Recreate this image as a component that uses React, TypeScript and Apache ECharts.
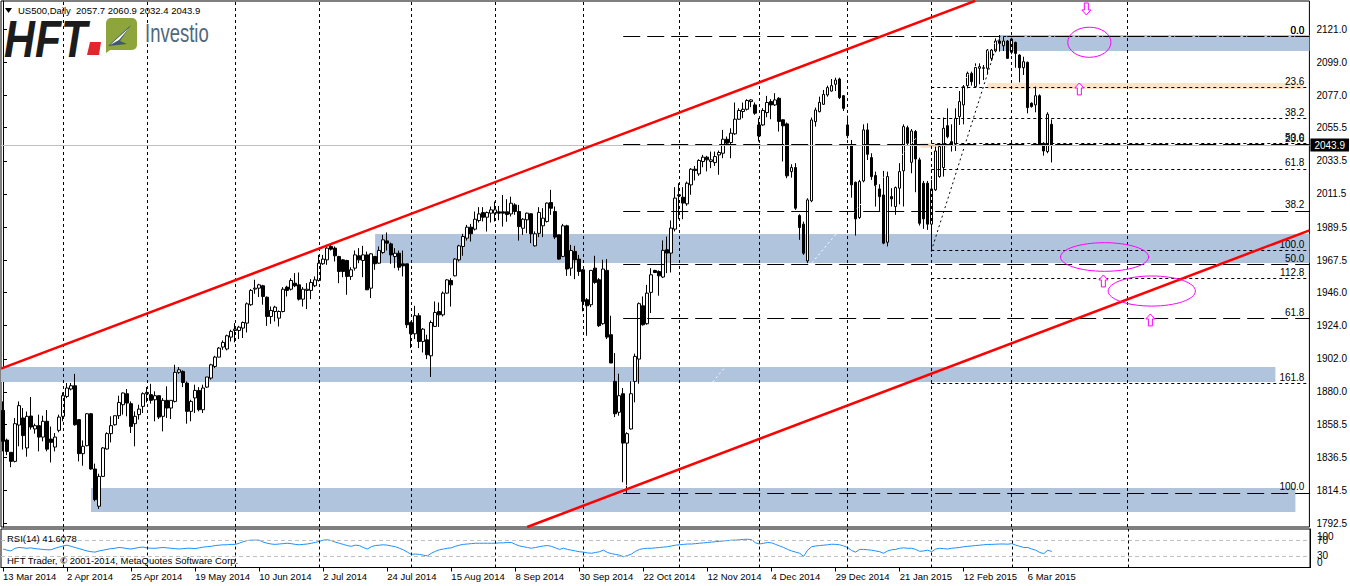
import React, { useEffect, useRef } from "react";
import * as echarts from "echarts";

// ---------- DATA ----------
const SLOTS = 327; // bar slots across the plot (incl. empty future space)

const dateTicks = [0, 16, 32, 48, 64, 80, 96, 112, 128, 144, 160, 176, 192, 208, 224, 240, 256];
const dateLabels = ["13 Mar 2014", "2 Apr 2014", "25 Apr 2014", "19 May 2014", "10 Jun 2014", "2 Jul 2014", "24 Jul 2014", "15 Aug 2014", "8 Sep 2014", "30 Sep 2014", "22 Oct 2014", "12 Nov 2014", "4 Dec 2014", "29 Dec 2014", "21 Jan 2015", "12 Feb 2015", "6 Mar 2015"];

const priceTicks = [2121.0, 2099.0, 2077.0, 2055.5, 2033.5, 2011.5, 1989.5, 1967.5, 1946.0, 1924.0, 1902.0, 1880.0, 1858.5, 1836.5, 1814.5, 1792.5];
const rsiInnerTicks = [70, 30];
const rsiOuterTicks = [100, 0];

// [open, close, low, high]
const candlesA = [
  [1867.7, 1847.2, 1840.5, 1873.7], [1848, 1840.5, 1838, 1849], [1839.9, 1833.9, 1830, 1840], [1833.9, 1858.9, 1833.2, 1862.7],
  [1858, 1870.9, 1843.9, 1873.7], [1862.7, 1851, 1841.7, 1869.3], [1842.8, 1863.8, 1837, 1867], [1864, 1856.7, 1855, 1876.6],
  [1855.4, 1857.6, 1852.3, 1858.9], [1857.6, 1850, 1840.5, 1864.9], [1850, 1860.5, 1847.2, 1864.2], [1860.5, 1842, 1840.5, 1868],
  [1848.7, 1846.5, 1833.2, 1857], [1843.4, 1850, 1840.5, 1852.7], [1854.5, 1863.3, 1853.2, 1864.9], [1863.8, 1877.5, 1860.5, 1879.7],
  [1877, 1882.6, 1875.9, 1885.9], [1881.9, 1884.1, 1881, 1885.9], [1884.1, 1858.2, 1857.6, 1892], [1861.6, 1839, 1833.9, 1861.6],
  [1839, 1843.9, 1831, 1847.8], [1844.3, 1865.5, 1843.9, 1866], [1865.5, 1828.8, 1828.4, 1866], [1828.8, 1808.5, 1807.4, 1832.4],
  [1804.1, 1823.9, 1802.3, 1825.7], [1823.9, 1842.8, 1823.5, 1843.4], [1842.1, 1852.3, 1841.7, 1853.2], [1852.3, 1857.6, 1846.5, 1863.8],
  [1858.2, 1864.2, 1857.6, 1864.2], [1864.2, 1873, 1862, 1877.5], [1871.5, 1879.3, 1864.9, 1879.7], [1878.8, 1872.6, 1863.8, 1881.9],
  [1872.2, 1857.1, 1852.7, 1873.7], [1858.9, 1863.8, 1843.9, 1867.1], [1864.9, 1868.6, 1861.6, 1871.5], [1870.4, 1878.8, 1866, 1879.7],
  [1878.8, 1879.7, 1873, 1883.2], [1878.2, 1874.4, 1872.2, 1885.4], [1874.8, 1877.5, 1860.5, 1880.4], [1877.5, 1863.3, 1862, 1877.5],
  [1863.8, 1874.4, 1853.8, 1875.9], [1874.4, 1869.3, 1862.7, 1883.7], [1869.3, 1874.4, 1862, 1874.4], [1873.7, 1893, 1873, 1898],
  [1893, 1894.7, 1892, 1896.5], [1893.6, 1886.3, 1883.2, 1894.3], [1885.9, 1867.1, 1858.9, 1887], [1867.1, 1873.7, 1860.5, 1874.8],
  [1876, 1881, 1866, 1884.8], [1881, 1868.2, 1867.1, 1883.2], [1868.2, 1882.6, 1866, 1884.8], [1883.2, 1889.9, 1882.6, 1889.9],
  [1889.2, 1898, 1888.1, 1898.7], [1896.9, 1903.1, 1895.8, 1904], [1903.1, 1909.1, 1903.1, 1909.8], [1909.8, 1912.9, 1908, 1914.2],
  [1908.5, 1917.3, 1907.6, 1918], [1916.4, 1920.2, 1913.5, 1921.3], [1920.8, 1921.7, 1912.9, 1925.7], [1920.8, 1923, 1915.1, 1923.9],
  [1922.4, 1926.1, 1915.8, 1926.8], [1925.7, 1938.5, 1919.5, 1939.4], [1937.9, 1947.4, 1937.2, 1948.3], [1948.3, 1948.9, 1945.2, 1954.5],
  [1948.9, 1951.1, 1943, 1951.8], [1950.5, 1943.4, 1937.9, 1951.1],
];
const candlesB = [
  [1942.9, 1930.1, 1923.9, 1943.4], [1930.1, 1934.1, 1925.2, 1936.7], [1933.4, 1936.3, 1926.8, 1937.2], [1929, 1933.4, 1923.5, 1934.1],
  [1933.4, 1948.2, 1932.8, 1949.6], [1949.6, 1947.4, 1943.4, 1950.5], [1948.2, 1954, 1947.4, 1955.5], [1952.2, 1950.5, 1949.6, 1958.9],
  [1951.1, 1941.6, 1940.7, 1959.3], [1941.6, 1948.2, 1936.7, 1949.6], [1947.4, 1948.2, 1935, 1952.2], [1947.4, 1952.7, 1941.6, 1954.9],
  [1950.5, 1954.4, 1949.6, 1956.7], [1954, 1965.5, 1953.3, 1971], [1965.1, 1968.2, 1964.4, 1971], [1967.7, 1975.5, 1964.4, 1977.7],
  [1976.6, 1974.8, 1973.9, 1977.7], [1975.5, 1970.4, 1966.6, 1976.6], [1969.9, 1960, 1952.2, 1970.4], [1967.7, 1960, 1956.2, 1968.2],
  [1967.3, 1956.7, 1944.5, 1967.7], [1956.7, 1961.1, 1954.4, 1962.8], [1962.2, 1971, 1960.6, 1973.9], [1970.4, 1967.7, 1965.5, 1975.5],
  [1967.3, 1971, 1956.2, 1977], [1971, 1947.8, 1947.8, 1973.2], [1948.9, 1971.7, 1942.3, 1972.1], [1969.9, 1965.1, 1961.1, 1970.4],
  [1965.5, 1973.9, 1965.1, 1976.6], [1972.6, 1981, 1971.7, 1984.3], [1980.3, 1978.8, 1973.9, 1985.9], [1978.3, 1971, 1965.1, 1979.2],
  [1969.9, 1972.1, 1962.2, 1975.5], [1972.1, 1962.8, 1960.6, 1973.9], [1965.1, 1963.7, 1956.7, 1973.9], [1965.1, 1924.6, 1922.4, 1965.1],
  [1926.1, 1918.6, 1909.1, 1926.8], [1918.6, 1930.6, 1915.1, 1937.2], [1930.6, 1913.5, 1909.1, 1932.3], [1913.5, 1921.7, 1906.2, 1922.4],
  [1914.6, 1904.7, 1901.8, 1918], [1904, 1926.1, 1889.9, 1927.4], [1923.5, 1932.8, 1923.1, 1940.1], [1933.4, 1931.2, 1923.1, 1939.4],
  [1931.2, 1945.6, 1930.1, 1946.7], [1945.6, 1954.4, 1945.2, 1954.9], [1954, 1951.1, 1936.7, 1955.5], [1957.1, 1968.2, 1956.7, 1968.8],
  [1967.7, 1977, 1966.6, 1977.7], [1976.6, 1983.2, 1970.4, 1985], [1982.1, 1989.4, 1980.5, 1990.9], [1989.4, 1985, 1979.9, 1991.6],
  [1988.1, 1994.7, 1987.2, 1999.8], [1993.8, 1998.2, 1992.5, 2002.7], [1999.1, 1996, 1993.2, 2002.7], [1996, 1999.1, 1986.5, 1999.8],
  [1998.7, 2000.9, 1992.5, 2003.1], [1998.7, 2000.9, 1993.2, 2006.4], [1999.6, 1998.7, 1994, 2003.5], [1999.6, 1998.7, 1989.8, 2010.8],
  [1999.6, 1997.8, 1993, 2008], [1998.2, 2005.3, 1996.5, 2009.7], [2004.2, 1999.8, 1997.6, 2005.3], [1999.8, 1989.8, 1980.5, 2004.2],
  [1988.7, 1994.7, 1984.3, 1995.4], [1994.3, 1998.7, 1985.4, 1999.1],
];
const candlesC = [
  [1998.3, 1985, 1978.8, 1998.7], [1977, 1985, 1976.6, 1986.6], [1985.3, 1999.2, 1982.8, 2002.7], [1990.3, 1995.4, 1982.8, 2002],
  [1993.2, 2005.4, 1992.5, 2005.8], [2005.8, 2002, 1997.6, 2014.2], [1999.8, 1982.8, 1981.5, 2003.1], [1984.3, 1968.2, 1967.8, 1984.3],
  [1970, 1990.3, 1969.5, 1991.6], [1990.3, 1961.6, 1957.1, 1991], [1962.2, 1973.9, 1957.1, 1977.7], [1973.3, 1967.8, 1954.9, 1977],
  [1968.2, 1960, 1957.1, 1971], [1961.1, 1940.1, 1933.5, 1961.6], [1941.2, 1937.2, 1917.3, 1942.3], [1937.9, 1960.7, 1936.3, 1960.7],
  [1962.2, 1952.7, 1951.8, 1970.4], [1954.5, 1924, 1923.1, 1955.6], [1925.3, 1961.6, 1924.6, 1967.8], [1960.7, 1916.4, 1915.1, 1968.2],
  [1918, 1899.2, 1899.2, 1930.6], [1887, 1865.5, 1863.3, 1905.8], [1866.5, 1877.5, 1864.2, 1892.1], [1878.8, 1846, 1820, 1882.6],
  [1846, 1852.3, 1813, 1853.2], [1855.4, 1878.8, 1855, 1887], [1887, 1903.6, 1873.1, 1905.4], [1901.8, 1938.6, 1885.5, 1939.4],
  [1937.2, 1924.6, 1924, 1943.4], [1925.3, 1945.6, 1924.6, 1951.1], [1946.1, 1957.8, 1932.4, 1962.2], [1960.7, 1959.3, 1958.9, 1961.1],
  [1960, 1957.1, 1943.9, 1960.7], [1956.3, 1974, 1955.6, 1980.6], [1974.4, 1972.2, 1958.9, 1983.2], [1972.2, 1988.8, 1959.3, 1993.9],
  [1988.1, 2008.7, 1986.6, 2016], [2010.9, 2010.2, 1994.7, 2018.6], [2009.3, 2005.4, 1994.7, 2016], [2004.9, 2018.6, 2003.6, 2019.7],
  [2017.5, 2027.9, 2010.9, 2028.6], [2027.9, 2027, 2020.4, 2030.1], [2024.8, 2033.7, 2023.5, 2034.5], [2033, 2035.9, 2029.2, 2037.4],
  [2035.9, 2034.1, 2026.4, 2036.8], [2033, 2034.1, 2028.6, 2039.6], [2032.3, 2036.3, 2030.1, 2039.6], [2037.4, 2039, 2024.2, 2040.3],
  [2038.5, 2047.8, 2035.2, 2054], [2047.8, 2045.2, 2043.4, 2049.6], [2045.6, 2051.8, 2035.2, 2055.1], [2051.4, 2061.1, 2050.7, 2072.2],
  [2061.1, 2066.9, 2060.7, 2068.4], [2066.2, 2067.7, 2061.8, 2072.2], [2067.7, 2073.5, 2066.9, 2074.4], [2072.8, 2073.9, 2069.1, 2074.4],
  [2070.6, 2065.1, 2064, 2072.2], [2057.3, 2050, 2046.3, 2061.8], [2057.3, 2066.9, 2056.7, 2068.4], [2065.5, 2072.2, 2062.4, 2076.6],
  [2072.8, 2070.6, 2061.1, 2074.4], [2070.6, 2073.9, 2069.9, 2078.4], [2075, 2059.6, 2052.9, 2075.7], [2060.7, 2056.7, 2033, 2061.1],
  [2058, 2023.5, 2021.9, 2058.9],
];
const candlesD = [
  [2026.3, 2029, 2022.3, 2031.2], [2029, 2002, 2000.9, 2031.9], [1997.1, 1989.2, 1981, 1998], [1991.4, 1972.1, 1971, 1993.1],
  [1967, 2007.5, 1965.5, 2008.6], [2006.9, 2060.6, 2006, 2062.2], [2059.5, 2067.2, 2056.2, 2068.8], [2066.1, 2072.3, 2065.7, 2076.1],
  [2071, 2077.6, 2070.6, 2080.5], [2077.2, 2082.1, 2076.1, 2083.4], [2079.8, 2083.4, 2079.4, 2087.8], [2084.3, 2087.1, 2079.8, 2088.7],
  [2087.8, 2075.4, 2074.5, 2088.7], [2076.7, 2068.3, 2066.6, 2077.2], [2057.3, 2050.2, 2048.4, 2063.5], [2043.6, 2017.5, 2009, 2047.3],
  [2019.2, 1994.9, 1983.8, 2019.7], [1995.8, 2019.7, 1994.9, 2020.8], [2020.1, 2054, 2019.2, 2057.7], [2054, 2037.8, 2034, 2058.4],
  [2035.6, 2023, 2020.8, 2038.5], [2023.7, 2017, 2003.1, 2026.3], [2014.8, 2009.7, 2000.2, 2017.9], [2010.8, 1978.8, 1978.1, 2026.8],
  [1979.4, 2023, 1976.6, 2026.3], [2009.7, 2008.2, 2003.1, 2015.3], [2003.1, 2015.7, 1997.6, 2016.4], [2015.3, 2026.3, 2004.6, 2031.9],
  [2026.8, 2056.2, 2003.1, 2057.7], [2055.5, 2045.1, 2043.6, 2056.8], [2032.5, 2053.3, 2025.2, 2054.6], [2052.9, 2034.7, 2012.6, 2053.9],
  [2034.1, 1992, 1990.5, 2035.6], [2018.6, 1994.9, 1988.3, 2020.1], [2018.6, 1991.4, 1987.6, 2020.1], [1991.4, 2014.8, 1973.2, 2020.8],
  [2014.2, 2040, 2013.5, 2042.9], [2023, 2042.9, 2022.3, 2044.5], [2029, 2055.1, 2023, 2062.2], [2056.8, 2049.5, 2048.4, 2068.3],
  [2046.2, 2044, 2039.6, 2057.7], [2044.5, 2061.7, 2040, 2068.3], [2062.8, 2072.8, 2057.3, 2079.8], [2070.6, 2082.7, 2057.7, 2083.8],
  [2083.4, 2091.6, 2081.6, 2092.7], [2091.6, 2086, 2083.4, 2092.7], [2082.7, 2095.4, 2082.1, 2098.2], [2094.9, 2096, 2084.3, 2098.2],
  [2094.9, 2095.3, 2087.1, 2097.1], [2094.9, 2107, 2090.9, 2107.7], [2101.5, 2107, 2099.8, 2107.7], [2106.4, 2113, 2105.5, 2114.8],
  [2113, 2111.5, 2106, 2117], [2109.9, 2113, 2106.4, 2115.9], [2113, 2101.5, 2101.1, 2113.7], [2105.5, 2114.4, 2104.2, 2115.2],
  [2112.1, 2104.8, 2095.3, 2112.6], [2103.7, 2095.3, 2085.6, 2104.2], [2095.3, 2099.3, 2090.5, 2102.6], [2098.9, 2068.8, 2065, 2099.3],
  [2071.7, 2069.5, 2068.8, 2072.3], [2070.6, 2076.7, 2065.7, 2082.7], [2076.7, 2044, 2043.6, 2077.6], [2045.1, 2040, 2036.9, 2045.8],
  [2039.6, 2064.4, 2038.5, 2065.7], [2057.7, 2043.9, 2032.4, 2060.9],
];

const rsi14 = [
  48, 45, 43, 50, 52, 51, 50, 51, 49, 48, 47, 46, 46, 50, 53, 56, 58, 55, 52, 49,
  46, 43, 41, 40, 43, 45, 47, 49, 50, 52, 51, 49, 48, 50, 52, 53, 51, 50, 50, 51,
  52, 51, 50, 49, 48, 49, 50, 50, 49, 51, 53, 54, 55, 57, 58, 59, 59, 60, 60, 63,
  67, 70, 71, 71, 71, 66, 63, 61, 60, 61, 62, 63, 62, 60, 59, 60, 61, 63, 65, 68,
  71, 72, 70, 66, 63, 60, 57, 55, 58, 57, 52, 48, 54, 57, 58, 59, 58, 56, 54, 50,
  46, 40, 34, 35, 34, 32, 30, 37, 42, 46, 48, 50, 51, 55, 58, 60, 61, 62, 63, 63,
  63, 63, 63, 63, 64, 64, 65, 65, 60, 56, 54, 52, 50, 52, 54, 56, 57, 55, 51, 47,
  50, 47, 45, 43, 41, 40, 38, 37, 39, 41, 45, 39, 36, 34, 32, 28, 31, 35, 42, 47,
  49, 50, 50, 51, 52, 53, 54, 56, 58, 59, 60, 61, 61, 62, 63, 64, 65, 66, 67, 68,
  69, 70, 71, 71, 72, 73, 73.5, 72, 64, 61, 63, 65, 64, 60, 56, 52, 47, 43, 40, 37,
  29, 45, 54, 56, 57, 58, 59, 60.5, 60, 59, 56, 52, 44, 40, 47, 47, 46, 45, 43, 41,
  37, 43, 46, 47, 50, 51, 50, 50, 47, 42, 43, 45, 41, 48, 50, 49, 48, 50, 51, 52,
  54, 55, 56, 57, 58, 59, 60, 60, 60.5, 61, 61, 60.5, 62, 58, 55, 52, 52, 48, 45, 39,
  36, 45, 41.6,
];

// vertical dashed grid positions (bar index)
const gridBars = [15, 36, 58, 79, 102, 123, 145, 169, 189, 211, 232, 252, 281];

// channel lines [barIndex, price]
const upperChannel = [[-0.5, 1895.5], [243, 2139.7]];
const lowerChannel = [[131, 1790.3], [326.5, 1987.3]];

// horizontal zones [fromBar, toBar, priceTop, priceBottom]
const blueZones = [
  [249, 326.5, 2117.0, 2106.4],
  [93, 326.5, 1984.9, 1965.6],
  [-0.5, 318, 1896.6, 1886.6],
  [22, 323, 1816.2, 1800.3],
];
const peachZones = [
  [246, 325, 2085.2, 2081.2],
  [229.3, 236, 2045.3, 2042.0],
];

// Fibonacci set 1 (Oct low -> Feb high), long dashes
const fib1Start = 155;
const fib1Labels = ["0.0", "23.6", "38.2", "50.0", "61.8", "100.0"];
const fib1Prices = [2116.0, 2044.5, 2000.3, 1964.5, 1928.7, 1813.0];
// Fibonacci set 2 (Feb low -> Feb high), short dots
const fib2Start = 232;
const fib2Labels = ["0.0", "23.6", "38.2", "50.0", "61.8", "100.0", "112.8", "161.8"];
const fib2Prices = [2116.0, 2082.4, 2061.7, 2044.9, 2028.1, 1973.8, 1955.6, 1885.9];
const fib1Anchor = [[155, 1815.2], [249.2, 2115.7]];
const fib2Anchor = [[232, 1973.6], [249, 2116.0]];

const lastPrice = 2043.9;

// annotations: [bar, price, rxBars, ryPoints]
const ellipses = [
  [271.5, 2112.2, 5.4, 10],
  [275.3, 1969.6, 11, 9.5],
  [287.1, 1947.0, 10.9, 10],
];
// arrows: [bar, price, direction 1=up -1=down]
const arrows = [
  [270.75, 2134.3, -1],
  [269, 2081.2, 1],
  [275, 1953.7, 1],
  [286.75, 1927.8, 1],
];

// ---------- CHART ----------
const FONT = '"Liberation Sans", Arial, sans-serif';
const slots = Array.from({ length: SLOTS }, (_, i) => String(i));
const candles = [...candlesA, ...candlesB, ...candlesC, ...candlesD];

function buildOption() {
  const fibLine = (start: number, price: number, label: string, dash: number[]) => [
    {
      coord: [start, price],
      lineStyle: { color: "#000", width: 1, type: dash },
      label: { show: true, formatter: label, position: "insideEndTop", distance: [5, 1], color: "#000", fontSize: 10, fontFamily: FONT },
    },
    { coord: [SLOTS - 0.5, price] },
  ];

  const markLineFib = [
    ...fib1Prices.map((p, k) => fibLine(fib1Start, p, fib1Labels[k], [17, 7])),
    ...fib2Prices.map((p, k) => fibLine(fib2Start, p, fib2Labels[k], [3, 3])),
  ];

  const zoneArea = (zones: number[][], color: string) =>
    zones.map((z) => [
      { coord: [z[0], z[2]], itemStyle: { color, opacity: 1 } },
      { coord: [z[1], z[3]] },
    ]);

  const arrowPoints = (dir: number) => {
    const pts = [[0, -6], [4.5, -1], [2, -1], [2, 6], [-2, 6], [-2, -1], [-4.5, -1]];
    return pts.map((p) => [p[0], p[1] * dir]);
  };

  const rsiAxisBase = {
    type: "value", gridIndex: 1, position: "right", min: 0, max: 100,
    axisTick: { show: false }, splitLine: { show: false },
  };

  return {
    animation: false,
    backgroundColor: "#ffffff",
    textStyle: { fontFamily: FONT },
    grid: [
      { left: 1, top: 1, width: 1309, height: 526, show: true, borderColor: "#000", borderWidth: 1, backgroundColor: "transparent" },
      { left: 1, top: 529, width: 1309, height: 38.5, show: true, borderColor: "#000", borderWidth: 1, backgroundColor: "transparent" },
    ],
    xAxis: [
      { type: "category", gridIndex: 0, data: slots, boundaryGap: true, axisLine: { show: false }, axisTick: { show: false }, axisLabel: { show: false }, splitLine: { show: false } },
      { type: "value", gridIndex: 0, min: -0.5, max: SLOTS - 0.5, show: false },
      {
        type: "category", gridIndex: 1, data: slots, boundaryGap: true,
        axisLine: { show: true, lineStyle: { color: "#000" } },
        axisTick: { show: true, alignWithLabel: true, length: 4, lineStyle: { color: "#000" }, interval: (i: number) => dateTicks.includes(i) },
        axisLabel: {
          show: true, interval: (i: number) => dateTicks.includes(i), align: "left", margin: 4,
          color: "#000", fontSize: 9.5, fontFamily: FONT,
          formatter: (_v: string, i: number) => { const k = dateTicks.indexOf(i); return k >= 0 ? dateLabels[k] : ""; },
        },
        splitLine: { show: false },
      },
    ],
    yAxis: [
      {
        type: "value", gridIndex: 0, position: "right", min: 1790.3, max: 2139.6, scale: true,
        axisLine: { show: true, lineStyle: { color: "#000" } },
        axisTick: { show: true, length: 4, lineStyle: { color: "#000" }, customValues: priceTicks },
        axisLabel: { show: true, margin: 7, color: "#000", fontSize: 10, fontFamily: FONT, customValues: priceTicks, formatter: (v: number) => v.toFixed(1) },
        splitLine: { show: false },
      },
      {
        ...rsiAxisBase,
        axisLine: { show: true, lineStyle: { color: "#000" } },
        axisLabel: { show: true, margin: 7, color: "#000", fontSize: 10, fontFamily: FONT, customValues: rsiInnerTicks, formatter: (v: number) => String(v) },
      },
      {
        ...rsiAxisBase,
        axisLine: { show: false },
        axisLabel: {
          show: true, margin: 7, color: "#000", fontSize: 10, fontFamily: FONT, customValues: rsiOuterTicks,
          showMinLabel: true, showMaxLabel: true,
          formatter: (v: number) => (v === 100 ? "{a|100}" : "{b|0}"),
          rich: {
            a: { fontSize: 10, fontFamily: FONT, color: "#000", padding: [14, 0, 0, 0] },
            b: { fontSize: 10, fontFamily: FONT, color: "#000", padding: [0, 0, 11, 0] },
          },
        },
      },
    ],
    series: [
      {
        // zones + vertical grid (background)
        type: "line", xAxisIndex: 1, yAxisIndex: 0, data: [], silent: true, z: 1,
        markArea: { silent: true, data: [...zoneArea(blueZones, "#b0c4de"), ...zoneArea(peachZones, "#fde3c8")] },
        markLine: {
          silent: true, symbol: ["none", "none"], label: { show: false },
          lineStyle: { color: "#000", width: 1, type: [3, 3] },
          data: gridBars.map((b) => ({ xAxis: b })),
        },
      },
      {
        type: "candlestick", xAxisIndex: 0, yAxisIndex: 0, data: candles, barWidth: 3, z: 3,
        itemStyle: { color: "#ffffff", color0: "#000000", borderColor: "#000000", borderColor0: "#000000", borderWidth: 1 },
        markLine: {
          silent: true, symbol: ["none", "none"],
          data: [{
            yAxis: lastPrice,
            lineStyle: { color: "#c0c0c0", width: 1, type: "solid" },
            label: { show: true, position: "end", distance: 1, formatter: lastPrice.toFixed(1), color: "#fff", backgroundColor: "#000", padding: [2, 4, 1, 4], fontSize: 10, fontFamily: FONT },
          }],
        },
      },
      {
        // fib levels
        type: "line", xAxisIndex: 1, yAxisIndex: 0, data: fib2Anchor, symbol: "none", z: 4, silent: true,
        lineStyle: { color: "#000", width: 1, type: [2, 3] },
        markLine: { silent: true, symbol: ["none", "none"], data: markLineFib },
      },
      {
        type: "line", xAxisIndex: 1, yAxisIndex: 0, data: fib1Anchor, symbol: "none", z: 4, silent: true,
        lineStyle: { color: "#ffffff", width: 1, type: [2, 3] },
      },
      {
        type: "line", xAxisIndex: 1, yAxisIndex: 0, data: upperChannel, symbol: "none", z: 5, silent: true,
        lineStyle: { color: "#ff0000", width: 2.5 },
      },
      {
        type: "line", xAxisIndex: 1, yAxisIndex: 0, data: lowerChannel, symbol: "none", z: 5, silent: true,
        lineStyle: { color: "#ff0000", width: 2.5 },
      },
      {
        type: "custom", xAxisIndex: 1, yAxisIndex: 0, data: ellipses, z: 6, silent: true, clip: false,
        renderItem: (_p: any, api: any) => {
          const c = api.coord([api.value(0), api.value(1)]);
          const s = api.size([api.value(2), api.value(3)]);
          return { type: "ellipse", shape: { cx: c[0], cy: c[1], rx: s[0], ry: s[1] }, style: { fill: "none", stroke: "#ff00ff", lineWidth: 1 } };
        },
      },
      {
        type: "custom", xAxisIndex: 1, yAxisIndex: 0, data: arrows, z: 6, silent: true, clip: false,
        renderItem: (_p: any, api: any) => {
          const c = api.coord([api.value(0), api.value(1)]);
          const pts = arrowPoints(api.value(2)).map((p) => [c[0] + p[0], c[1] + p[1]]);
          return { type: "polygon", shape: { points: pts }, style: { fill: "#ffffff", stroke: "#ff00ff", lineWidth: 1 } };
        },
      },
      {
        type: "line", xAxisIndex: 2, yAxisIndex: 1, data: rsi14, symbol: "none", z: 3, silent: true,
        lineStyle: { color: "#1e90ff", width: 1 },
        markLine: {
          silent: true, symbol: ["none", "none"], label: { show: false },
          data: [
            { yAxis: 70, lineStyle: { color: "#c0c0c0", width: 1, type: [4, 3] } },
            { yAxis: 30, lineStyle: { color: "#c0c0c0", width: 1, type: [4, 3] } },
            ...gridBars.map((b) => ({ xAxis: b, lineStyle: { color: "#000", width: 1, type: [3, 3] } })),
          ],
        },
      },
    ],
    graphic: [
      { type: "polygon", shape: { points: [[5, 8], [12, 8], [8.5, 13]] }, style: { fill: "#000" }, z: 10 },
      { type: "text", x: 18, y: 5, style: { text: "US500,Daily  2057.7 2060.9 2032.4 2043.9", fill: "#000", font: `9.5px ${FONT}` }, z: 10 },
      // logo
      { type: "text", x: 4, y: 14, scaleX: 0.84, style: { text: "HFT", fill: "#1c1c1c", font: `italic bold 51px ${FONT}` }, z: 10 },
      { type: "polygon", shape: { points: [[90, 42], [101, 42], [99, 55], [87, 55]] }, style: { fill: "#e3262b" }, z: 10 },
      { type: "rect", shape: { x: 106, y: 18, width: 31, height: 32, r: [5, 5, 5, 0] }, style: { fill: "#8ea43c" }, z: 9 },
      { type: "polygon", shape: { points: [[106, 44], [106, 53], [113, 48]] }, style: { fill: "#8ea43c" }, z: 9 },
      { type: "polygon", shape: { points: [[108, 46], [131, 25], [120, 41], [127, 44]] }, style: { fill: "#3e5a6b" }, z: 10 },
      { type: "polygon", shape: { points: [[110, 45], [129, 28], [119, 40]] }, style: { fill: "#ffffff" }, z: 11 },
      { type: "text", x: 145, y: 21, scaleX: 0.74, style: { text: "Investio", fill: "#50687a", font: `25px ${FONT}` }, z: 12 },
      // indicator captions
      { type: "text", x: 7, y: 533, style: { text: "RSI(14) 41.6078", fill: "#000", font: `9.5px ${FONT}` }, z: 10 },
      { type: "text", x: 7, y: 555, style: { text: "HFT Trader, \u00a9 2001-2014, MetaQuotes Software Corp.", fill: "#000", font: `9.5px ${FONT}` }, z: 10 },
    ],
  };
}

export default function App() {
  const ref = useRef<HTMLDivElement>(null);
  useEffect(() => {
    if (!ref.current) return;
    const chart = echarts.init(ref.current, undefined, { renderer: "svg" });
    chart.setOption(buildOption() as any);
    return () => chart.dispose();
  }, []);
  return <div ref={ref} style={{ position: "fixed", left: 0, top: 0, width: 1350, height: 586, background: "#fff" }} />;
}
